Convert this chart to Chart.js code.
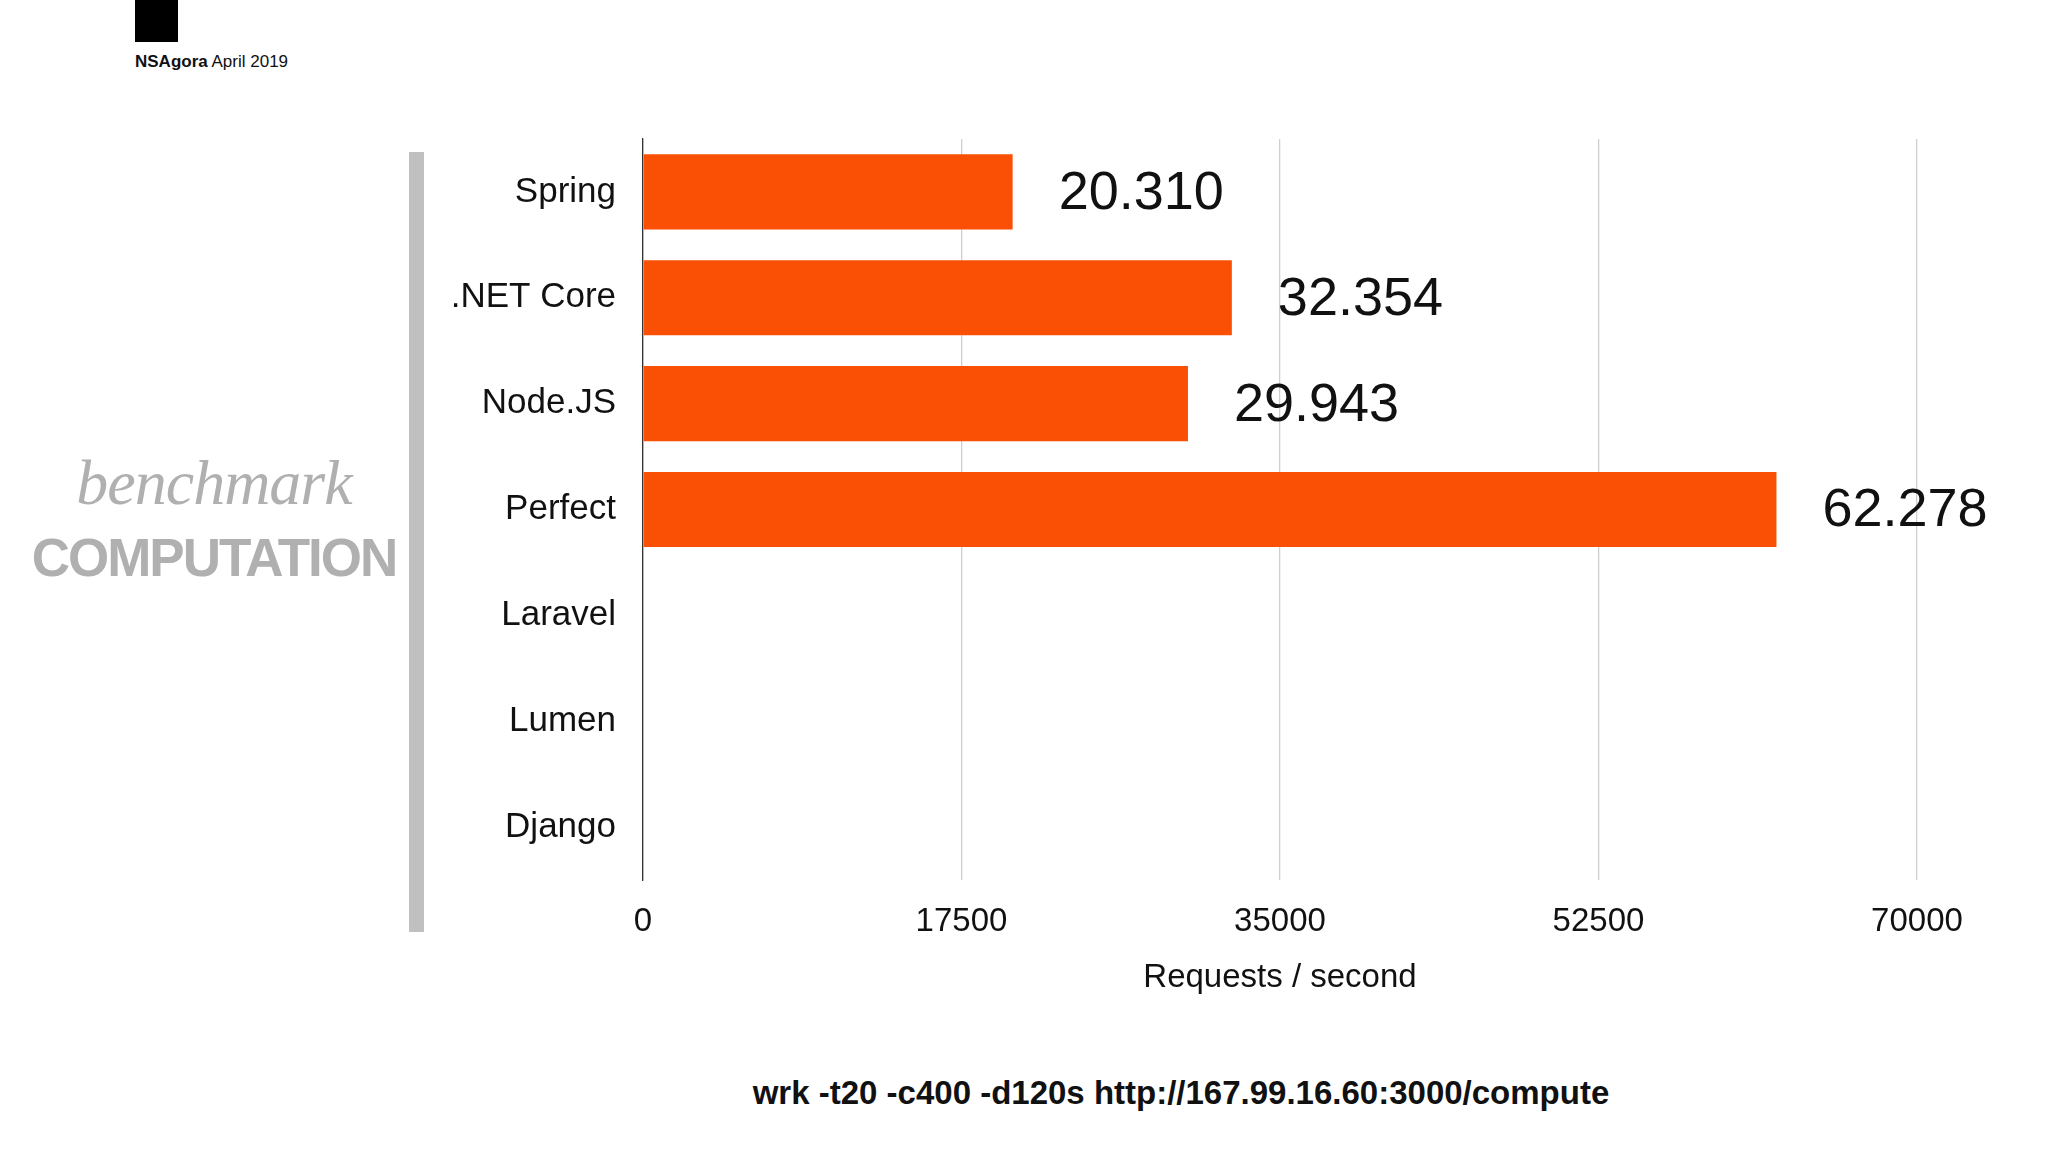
<!DOCTYPE html>
<html><head><meta charset="utf-8">
<script src="https://cdn.jsdelivr.net/npm/chart.js@4"></script>
<style>
html,body{margin:0;padding:0;background:#fff;width:2048px;height:1152px;overflow:hidden;font-family:"Liberation Sans",Arial,sans-serif}
#c{position:absolute;left:0;top:0}
.abs{position:absolute;white-space:nowrap}
</style></head><body>
<div class="abs" style="left:135px;top:0;width:43px;height:42px;background:#000"></div>
<div class="abs" style="left:135px;top:52px;font-size:17px;color:#111"><b>NSAgora</b> April 2019</div>
<div class="abs" style="left:409px;top:152px;width:15px;height:780px;background:#c0c0c0"></div>
<div class="abs" style="left:0;width:428px;text-align:center;top:446px;font-family:'Liberation Serif',serif;font-style:italic;font-size:64px;color:#b0b0b0;letter-spacing:-1px">benchmark</div>
<div class="abs" style="left:0;width:428px;text-align:center;top:527px;font-weight:bold;font-size:53px;color:#b0b0b0;letter-spacing:-2px">COMPUTATION</div>
<div class="abs" style="left:0;width:2362px;text-align:center;top:1074px;font-weight:bold;font-size:33px;color:#111">wrk -t20 -c400 -d120s http://167.99.16.60:3000/compute</div>
<canvas id="c" width="2048" height="1152"></canvas>
<script>
const categories=["Spring",".NET Core","Node.JS","Perfect","Laravel","Lumen","Django"];
const values=[20310,32354,29943,62278,null,null,null];
const tickValues=[0,17500,35000,52500,70000];
const fmt=v=>String(v).replace(/\B(?=(\d{3})+(?!\d))/g,".");
const labelPlugin={id:"vl",afterDatasetsDraw(ch){const ctx=ch.ctx;const m=ch.getDatasetMeta(0);ctx.save();ctx.font="54px 'Liberation Sans', Arial, sans-serif";ctx.fillStyle="#111";ctx.textBaseline="middle";m.data.forEach((b,i)=>{if(values[i]==null)return;ctx.fillText(fmt(values[i]),b.x+46,b.y+2);});ctx.restore();}};
new Chart(document.getElementById("c"),{type:"bar",
data:{labels:categories,datasets:[{data:values,backgroundColor:"#fa5005",categoryPercentage:0.71,barPercentage:1}]},
options:{indexAxis:"y",responsive:false,animation:false,devicePixelRatio:1,
layout:{padding:{left:0,right:131,top:139,bottom:142}},
plugins:{legend:{display:false},tooltip:{enabled:false}},
scales:{
x:{min:0,max:70000,afterBuildTicks(s){s.ticks=tickValues.map(v=>({value:v}));},
afterFit(s){s.height=130;},
grid:{color:"#cfcfcf",lineWidth:1.3,drawTicks:false},border:{display:false},
ticks:{padding:22,color:"#111",font:{size:33,family:"'Liberation Sans', Arial"},callback:v=>String(v)},
title:{display:true,text:"Requests / second",color:"#111",font:{size:33,family:"'Liberation Sans', Arial"},padding:{top:3,bottom:12}}},
y:{afterFit(s){s.width=643;},grid:{display:false,drawTicks:false},border:{display:true,color:"#333",width:1.3},
ticks:{padding:27,color:"#111",font:{size:35,family:"'Liberation Sans', Arial"}}}
}},plugins:[labelPlugin]});
</script></body></html>
